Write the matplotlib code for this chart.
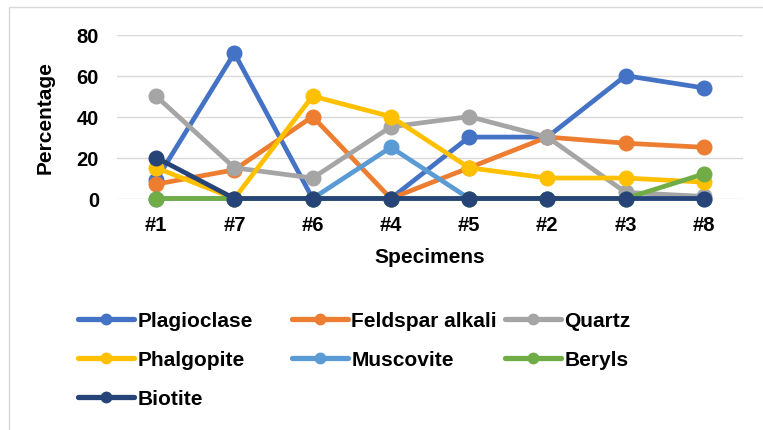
import matplotlib
matplotlib.use("Agg")
import matplotlib.pyplot as plt
from matplotlib.patches import Rectangle

plt.rcParams['font.family'] = ['Liberation Sans', 'DejaVu Sans']
plt.rcParams['font.weight'] = 'bold'

specimens = ["#1", "#7", "#6", "#4", "#5", "#2", "#3", "#8"]
plagioclase = [9, 71, 0, 0, 30, 30, 60, 54]
feldspar_alkali = [7, 14, 40, 0, 15, 30, 27, 25]
quartz = [50, 15, 10, 35, 40, 30, 3, 1]
phalgopite = [15, 0, 50, 40, 15, 10, 10, 8]
muscovite = [0, 0, 0, 25, 0, 0, 0, 0]
beryls = [0, 0, 0, 0, 0, 0, 0, 12]
biotite = [20, 0, 0, 0, 0, 0, 0, 0]
y_ticks = [0, 20, 40, 60, 80]

series_names = ["Plagioclase", "Feldspar alkali", "Quartz", "Phalgopite",
                "Muscovite", "Beryls", "Biotite"]
series_values = [plagioclase, feldspar_alkali, quartz, phalgopite,
                 muscovite, beryls, biotite]
colors = ["#4472C4", "#ED7D31", "#A5A5A5", "#FFC000", "#5B9BD5", "#70AD47", "#264478"]

W, H = 763, 431
fig = plt.figure(figsize=(W / 100, H / 100), dpi=100)
ax = fig.add_axes([117 / W, 1 - 199.5 / H, 626 / W, 163.8 / H])

x = list(range(len(specimens)))
handles = []
for name, vals, c in zip(series_names, series_values, colors):
    h, = ax.plot(x, vals, color=c, lw=3.4, marker='o', ms=10.5, clip_on=False,
                 solid_capstyle='round', label=name)
    handles.append(h)

ax.set_xlim(-0.5, len(specimens) - 0.5)
ax.set_ylim(0, 80)
ax.set_yticks(y_ticks)
ax.set_xticks(x)
ax.set_xticklabels(specimens)
ax.tick_params(axis='both', length=0, labelsize=14.5, colors='black')
ax.tick_params(axis='y', pad=13)
ax.tick_params(axis='x', pad=12)
for lab in ax.get_xticklabels() + ax.get_yticklabels():
    lab.set_fontweight('bold')
ax.grid(axis='y', color='#D9D9D9', lw=1.0)
ax.set_axisbelow(True)
for s in ax.spines.values():
    s.set_visible(False)

ax.set_ylabel("Percentage", fontsize=15, fontweight='bold')
ax.yaxis.set_label_coords((55 - 117) / 626, 0.5)
ax.set_xlabel("Specimens", fontsize=15, fontweight='bold')
ax.xaxis.set_label_coords(0.5, (199.5 - 258) / 163.8)
ax.xaxis.label.set_va('center')

# legend: 3 equal columns
col_x = [78, 292, 505]
row_y = [322, 361, 400]
for i, h in enumerate(handles):
    r, cidx = divmod(i, 3)
    leg = fig.legend([h], [h.get_label()], loc='center left',
                     bbox_to_anchor=(col_x[cidx] / W, 1 - row_y[r] / H),
                     frameon=False, borderpad=0, borderaxespad=0,
                     handlelength=2.7, handletextpad=0.15,
                     prop={'size': 15, 'weight': 'bold'})
    for line in leg.get_lines():
        line.set_markersize(7.5)
        line.set_linewidth(3.8)

fig.patches.append(Rectangle((8.5 / W, -0.1), 1.2, (H - 7.5) / H + 0.1,
                             transform=fig.transFigure, fill=False,
                             edgecolor='#D9D9D9', lw=1.0))

fig.savefig("out.png", dpi=100)
